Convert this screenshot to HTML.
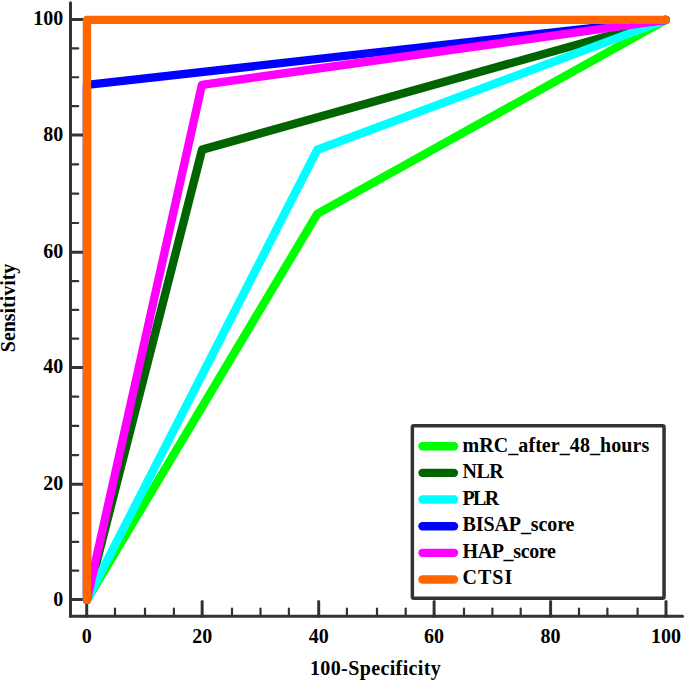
<!DOCTYPE html>
<html><head><meta charset="utf-8"><style>
html,body{margin:0;padding:0;background:#fff;}
svg{display:block;}
</style></head><body>
<svg width="685" height="681" viewBox="0 0 685 681">
<line x1="70.5" y1="2.8" x2="70.5" y2="616.3" stroke="#333333" stroke-width="3" stroke-linecap="round"/>
<line x1="70.5" y1="616.3" x2="682.5" y2="616.3" stroke="#333333" stroke-width="3" stroke-linecap="round"/>
<line x1="70.5" y1="599.5" x2="86.5" y2="599.5" stroke="#333333" stroke-width="3" stroke-linecap="round"/>
<line x1="70.5" y1="570.70" x2="78.2" y2="570.70" stroke="#333333" stroke-width="2.2" stroke-linecap="round"/>
<line x1="70.5" y1="541.90" x2="78.2" y2="541.90" stroke="#333333" stroke-width="2.2" stroke-linecap="round"/>
<line x1="70.5" y1="513.10" x2="78.2" y2="513.10" stroke="#333333" stroke-width="2.2" stroke-linecap="round"/>
<line x1="70.5" y1="484.3" x2="86.5" y2="484.3" stroke="#333333" stroke-width="3" stroke-linecap="round"/>
<line x1="70.5" y1="455.10" x2="78.2" y2="455.10" stroke="#333333" stroke-width="2.2" stroke-linecap="round"/>
<line x1="70.5" y1="425.90" x2="78.2" y2="425.90" stroke="#333333" stroke-width="2.2" stroke-linecap="round"/>
<line x1="70.5" y1="396.70" x2="78.2" y2="396.70" stroke="#333333" stroke-width="2.2" stroke-linecap="round"/>
<line x1="70.5" y1="367.5" x2="86.5" y2="367.5" stroke="#333333" stroke-width="3" stroke-linecap="round"/>
<line x1="70.5" y1="338.70" x2="78.2" y2="338.70" stroke="#333333" stroke-width="2.2" stroke-linecap="round"/>
<line x1="70.5" y1="309.90" x2="78.2" y2="309.90" stroke="#333333" stroke-width="2.2" stroke-linecap="round"/>
<line x1="70.5" y1="281.10" x2="78.2" y2="281.10" stroke="#333333" stroke-width="2.2" stroke-linecap="round"/>
<line x1="70.5" y1="252.3" x2="86.5" y2="252.3" stroke="#333333" stroke-width="3" stroke-linecap="round"/>
<line x1="70.5" y1="222.98" x2="78.2" y2="222.98" stroke="#333333" stroke-width="2.2" stroke-linecap="round"/>
<line x1="70.5" y1="193.65" x2="78.2" y2="193.65" stroke="#333333" stroke-width="2.2" stroke-linecap="round"/>
<line x1="70.5" y1="164.32" x2="78.2" y2="164.32" stroke="#333333" stroke-width="2.2" stroke-linecap="round"/>
<line x1="70.5" y1="135.0" x2="86.5" y2="135.0" stroke="#333333" stroke-width="3" stroke-linecap="round"/>
<line x1="70.5" y1="106.12" x2="78.2" y2="106.12" stroke="#333333" stroke-width="2.2" stroke-linecap="round"/>
<line x1="70.5" y1="77.25" x2="78.2" y2="77.25" stroke="#333333" stroke-width="2.2" stroke-linecap="round"/>
<line x1="70.5" y1="48.38" x2="78.2" y2="48.38" stroke="#333333" stroke-width="2.2" stroke-linecap="round"/>
<line x1="70.5" y1="19.5" x2="86.5" y2="19.5" stroke="#333333" stroke-width="3" stroke-linecap="round"/>
<line x1="115.00" y1="616.3" x2="115.00" y2="608.5" stroke="#333333" stroke-width="2.2" stroke-linecap="round"/>
<line x1="145.00" y1="616.3" x2="145.00" y2="608.5" stroke="#333333" stroke-width="2.2" stroke-linecap="round"/>
<line x1="173.90" y1="616.3" x2="173.90" y2="608.5" stroke="#333333" stroke-width="2.2" stroke-linecap="round"/>
<line x1="232.00" y1="616.3" x2="232.00" y2="608.5" stroke="#333333" stroke-width="2.2" stroke-linecap="round"/>
<line x1="260.50" y1="616.3" x2="260.50" y2="608.5" stroke="#333333" stroke-width="2.2" stroke-linecap="round"/>
<line x1="288.90" y1="616.3" x2="288.90" y2="608.5" stroke="#333333" stroke-width="2.2" stroke-linecap="round"/>
<line x1="346.90" y1="616.3" x2="346.90" y2="608.5" stroke="#333333" stroke-width="2.2" stroke-linecap="round"/>
<line x1="377.00" y1="616.3" x2="377.00" y2="608.5" stroke="#333333" stroke-width="2.2" stroke-linecap="round"/>
<line x1="405.70" y1="616.3" x2="405.70" y2="608.5" stroke="#333333" stroke-width="2.2" stroke-linecap="round"/>
<line x1="464.00" y1="616.3" x2="464.00" y2="608.5" stroke="#333333" stroke-width="2.2" stroke-linecap="round"/>
<line x1="492.40" y1="616.3" x2="492.40" y2="608.5" stroke="#333333" stroke-width="2.2" stroke-linecap="round"/>
<line x1="520.70" y1="616.3" x2="520.70" y2="608.5" stroke="#333333" stroke-width="2.2" stroke-linecap="round"/>
<line x1="579.00" y1="616.3" x2="579.00" y2="608.5" stroke="#333333" stroke-width="2.2" stroke-linecap="round"/>
<line x1="607.40" y1="616.3" x2="607.40" y2="608.5" stroke="#333333" stroke-width="2.2" stroke-linecap="round"/>
<line x1="637.60" y1="616.3" x2="637.60" y2="608.5" stroke="#333333" stroke-width="2.2" stroke-linecap="round"/>
<line x1="86.7" y1="616.3" x2="86.7" y2="601.5999999999999" stroke="#333333" stroke-width="3" stroke-linecap="round"/>
<line x1="202.15" y1="616.3" x2="202.15" y2="601.5999999999999" stroke="#333333" stroke-width="3" stroke-linecap="round"/>
<line x1="318.7" y1="616.3" x2="318.7" y2="601.5999999999999" stroke="#333333" stroke-width="3" stroke-linecap="round"/>
<line x1="434.1" y1="616.3" x2="434.1" y2="601.5999999999999" stroke="#333333" stroke-width="3" stroke-linecap="round"/>
<line x1="550.6" y1="616.3" x2="550.6" y2="601.5999999999999" stroke="#333333" stroke-width="3" stroke-linecap="round"/>
<line x1="666.0" y1="616.3" x2="666.0" y2="601.5999999999999" stroke="#333333" stroke-width="3" stroke-linecap="round"/>
<text x="63.2" y="25" text-anchor="end" style="font-family:'Liberation Serif',serif;font-weight:bold;font-variant-ligatures:none;font-size:20px">100</text>
<text x="63.2" y="141" text-anchor="end" style="font-family:'Liberation Serif',serif;font-weight:bold;font-variant-ligatures:none;font-size:20px">80</text>
<text x="63.2" y="258" text-anchor="end" style="font-family:'Liberation Serif',serif;font-weight:bold;font-variant-ligatures:none;font-size:20px">60</text>
<text x="63.2" y="373" text-anchor="end" style="font-family:'Liberation Serif',serif;font-weight:bold;font-variant-ligatures:none;font-size:20px">40</text>
<text x="63.2" y="490" text-anchor="end" style="font-family:'Liberation Serif',serif;font-weight:bold;font-variant-ligatures:none;font-size:20px">20</text>
<text x="63.2" y="606" text-anchor="end" style="font-family:'Liberation Serif',serif;font-weight:bold;font-variant-ligatures:none;font-size:20px">0</text>
<text x="86.7" y="643" text-anchor="middle" style="font-family:'Liberation Serif',serif;font-weight:bold;font-variant-ligatures:none;font-size:20px">0</text>
<text x="202.15" y="643" text-anchor="middle" style="font-family:'Liberation Serif',serif;font-weight:bold;font-variant-ligatures:none;font-size:20px">20</text>
<text x="318.7" y="643" text-anchor="middle" style="font-family:'Liberation Serif',serif;font-weight:bold;font-variant-ligatures:none;font-size:20px">40</text>
<text x="434.1" y="643" text-anchor="middle" style="font-family:'Liberation Serif',serif;font-weight:bold;font-variant-ligatures:none;font-size:20px">60</text>
<text x="550.6" y="643" text-anchor="middle" style="font-family:'Liberation Serif',serif;font-weight:bold;font-variant-ligatures:none;font-size:20px">80</text>
<text x="666.0" y="643" text-anchor="middle" style="font-family:'Liberation Serif',serif;font-weight:bold;font-variant-ligatures:none;font-size:20px">100</text>
<text x="375.4" y="675.2" text-anchor="middle" textLength="130.83" lengthAdjust="spacing" style="font-family:'Liberation Serif',serif;font-weight:bold;font-variant-ligatures:none;font-size:20px">100-Specificity</text>
<text transform="translate(15.3,307.9) rotate(-90)" x="0" y="0" text-anchor="middle" textLength="88.56" lengthAdjust="spacing" style="font-family:'Liberation Serif',serif;font-weight:bold;font-variant-ligatures:none;font-size:20px">Sensitivity</text>
<polyline points="86.95,599.85 317.25,213.90 665.85,19.84" fill="none" stroke="#00FF00" stroke-width="8.4" stroke-linejoin="round" stroke-linecap="round"/>
<polyline points="86.95,599.85 202.10,149.60 665.85,19.84" fill="none" stroke="#006400" stroke-width="8.4" stroke-linejoin="round" stroke-linecap="round"/>
<polyline points="86.95,599.85 317.25,149.75 665.85,19.84" fill="none" stroke="#00FFFF" stroke-width="8.4" stroke-linejoin="round" stroke-linecap="round"/>
<polyline points="86.95,599.85 86.95,84.90 665.85,19.84" fill="none" stroke="#0000FF" stroke-width="8.4" stroke-linejoin="round" stroke-linecap="round"/>
<polyline points="86.95,599.85 201.90,84.85 665.85,19.84" fill="none" stroke="#FF00FF" stroke-width="8.4" stroke-linejoin="round" stroke-linecap="round"/>
<polyline points="86.95,599.85 86.95,19.84 665.85,19.84" fill="none" stroke="#FF6600" stroke-width="8.4" stroke-linejoin="round" stroke-linecap="round"/>
<rect x="412.35" y="425.85" width="251.69999999999993" height="172.39999999999998" fill="#fff" stroke="#333333" stroke-width="3.5" rx="1.5"/>
<line x1="422.5" y1="446.20" x2="454" y2="446.20" stroke="#00FF00" stroke-width="8.4" stroke-linecap="round"/>
<text x="462.5" y="451.90" textLength="186.73" lengthAdjust="spacing" style="font-family:'Liberation Serif',serif;font-weight:bold;font-variant-ligatures:none;font-size:20px">mRC_after_48_hours</text>
<line x1="422.5" y1="472.86" x2="454" y2="472.86" stroke="#006400" stroke-width="8.4" stroke-linecap="round"/>
<text x="462.5" y="478.40" textLength="41.13" lengthAdjust="spacing" style="font-family:'Liberation Serif',serif;font-weight:bold;font-variant-ligatures:none;font-size:20px">NLR</text>
<line x1="422.5" y1="499.52" x2="454" y2="499.52" stroke="#00FFFF" stroke-width="8.4" stroke-linecap="round"/>
<text x="462.5" y="504.90" textLength="36.70" lengthAdjust="spacing" style="font-family:'Liberation Serif',serif;font-weight:bold;font-variant-ligatures:none;font-size:20px">PLR</text>
<line x1="422.5" y1="526.18" x2="454" y2="526.18" stroke="#0000FF" stroke-width="8.4" stroke-linecap="round"/>
<text x="462.5" y="531.40" textLength="111.97" lengthAdjust="spacing" style="font-family:'Liberation Serif',serif;font-weight:bold;font-variant-ligatures:none;font-size:20px">BISAP_score</text>
<line x1="422.5" y1="552.84" x2="454" y2="552.84" stroke="#FF00FF" stroke-width="8.4" stroke-linecap="round"/>
<text x="462.5" y="557.90" textLength="93.28" lengthAdjust="spacing" style="font-family:'Liberation Serif',serif;font-weight:bold;font-variant-ligatures:none;font-size:20px">HAP_score</text>
<line x1="422.5" y1="579.50" x2="454" y2="579.50" stroke="#FF6600" stroke-width="8.4" stroke-linecap="round"/>
<text x="462.5" y="584.40" textLength="49.75" lengthAdjust="spacing" style="font-family:'Liberation Serif',serif;font-weight:bold;font-variant-ligatures:none;font-size:20px">CTSI</text>
</svg>
</body></html>
